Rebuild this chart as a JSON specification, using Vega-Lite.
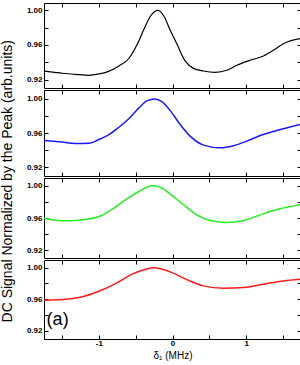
{
  "$schema": "https://vega.github.io/schema/vega-lite/v6.json",
  "padding": {"left": 0, "top": 2, "right": 1, "bottom": 0},
  "spacing": 0,
  "title": {"text": "DC Signal Normalized by the Peak (arb.units)", "orient": "left", "anchor": "middle", "fontSize": 14, "font": "Liberation Sans", "fontWeight": "normal", "color": "black", "offset": 11},
  "config": {
    "view": {"stroke": "black", "strokeWidth": 1},
    "axis": {"grid": false, "domain": false, "tickColor": "black", "tickSize": -4, "labelFont": "Liberation Sans Narrow, Liberation Sans, sans-serif", "labelFontWeight": "bold", "labelFontSize": 8, "labelColor": "black", "labelPadding": 6}
  },
  "datasets": {
    "curves": [
      {"s": "k", "x": -1.745, "v": 0.930}, {"s": "k", "x": -1.6, "v": 0.9285}, {"s": "k", "x": -1.5, "v": 0.9274}, {"s": "k", "x": -1.32, "v": 0.9262}, {"s": "k", "x": -1.13, "v": 0.925}, {"s": "k", "x": -1.0, "v": 0.9266}, {"s": "k", "x": -0.886, "v": 0.929}, {"s": "k", "x": -0.727, "v": 0.9358}, {"s": "k", "x": -0.59, "v": 0.9447}, {"s": "k", "x": -0.479, "v": 0.9608}, {"s": "k", "x": -0.388, "v": 0.978}, {"s": "k", "x": -0.298, "v": 0.9934}, {"s": "k", "x": -0.198, "v": 1.0}, {"s": "k", "x": -0.117, "v": 0.9934}, {"s": "k", "x": -0.031, "v": 0.977}, {"s": "k", "x": 0.06, "v": 0.961}, {"s": "k", "x": 0.172, "v": 0.9416}, {"s": "k", "x": 0.285, "v": 0.933}, {"s": "k", "x": 0.42, "v": 0.930}, {"s": "k", "x": 0.58, "v": 0.9285}, {"s": "k", "x": 0.738, "v": 0.9308}, {"s": "k", "x": 0.874, "v": 0.9366}, {"s": "k", "x": 1.054, "v": 0.9424}, {"s": "k", "x": 1.235, "v": 0.9473}, {"s": "k", "x": 1.37, "v": 0.9539}, {"s": "k", "x": 1.506, "v": 0.9615}, {"s": "k", "x": 1.733, "v": 0.9673},
      {"s": "b", "x": -1.745, "v": 0.9512}, {"s": "b", "x": -1.5, "v": 0.9493}, {"s": "b", "x": -1.32, "v": 0.9477}, {"s": "b", "x": -1.13, "v": 0.948}, {"s": "b", "x": -1.0, "v": 0.9523}, {"s": "b", "x": -0.863, "v": 0.958}, {"s": "b", "x": -0.727, "v": 0.9668}, {"s": "b", "x": -0.59, "v": 0.977}, {"s": "b", "x": -0.456, "v": 0.9895}, {"s": "b", "x": -0.343, "v": 0.998}, {"s": "b", "x": -0.239, "v": 1.0}, {"s": "b", "x": -0.14, "v": 0.9965}, {"s": "b", "x": -0.031, "v": 0.9863}, {"s": "b", "x": 0.104, "v": 0.970}, {"s": "b", "x": 0.24, "v": 0.9563}, {"s": "b", "x": 0.42, "v": 0.9458}, {"s": "b", "x": 0.647, "v": 0.9426}, {"s": "b", "x": 0.828, "v": 0.945}, {"s": "b", "x": 1.01, "v": 0.9505}, {"s": "b", "x": 1.19, "v": 0.957}, {"s": "b", "x": 1.417, "v": 0.9629}, {"s": "b", "x": 1.733, "v": 0.970},
      {"s": "g", "x": -1.745, "v": 0.9598}, {"s": "g", "x": -1.47, "v": 0.9565}, {"s": "g", "x": -1.27, "v": 0.9573}, {"s": "g", "x": -1.0, "v": 0.9618}, {"s": "g", "x": -0.818, "v": 0.971}, {"s": "g", "x": -0.638, "v": 0.9826}, {"s": "g", "x": -0.456, "v": 0.9929}, {"s": "g", "x": -0.275, "v": 1.0}, {"s": "g", "x": -0.14, "v": 0.9971}, {"s": "g", "x": -0.031, "v": 0.9897}, {"s": "g", "x": 0.149, "v": 0.9764}, {"s": "g", "x": 0.33, "v": 0.9639}, {"s": "g", "x": 0.512, "v": 0.9568}, {"s": "g", "x": 0.738, "v": 0.9543}, {"s": "g", "x": 0.963, "v": 0.9568}, {"s": "g", "x": 1.19, "v": 0.9639}, {"s": "g", "x": 1.46, "v": 0.9714}, {"s": "g", "x": 1.733, "v": 0.9764},
      {"s": "r", "x": -1.745, "v": 0.9588}, {"s": "r", "x": -1.5, "v": 0.9596}, {"s": "r", "x": -1.27, "v": 0.962}, {"s": "r", "x": -1.0, "v": 0.970}, {"s": "r", "x": -0.773, "v": 0.9798}, {"s": "r", "x": -0.547, "v": 0.9917}, {"s": "r", "x": -0.366, "v": 0.998}, {"s": "r", "x": -0.253, "v": 1.0}, {"s": "r", "x": -0.14, "v": 0.998}, {"s": "r", "x": -0.031, "v": 0.9946}, {"s": "r", "x": 0.195, "v": 0.9848}, {"s": "r", "x": 0.42, "v": 0.9769}, {"s": "r", "x": 0.692, "v": 0.974}, {"s": "r", "x": 0.963, "v": 0.9747}, {"s": "r", "x": 1.235, "v": 0.979}, {"s": "r", "x": 1.506, "v": 0.9832}, {"s": "r", "x": 1.733, "v": 0.9853}
    ]
  },
  "vconcat": [
    {
      "width": 257, "height": 85,
      "data": {"name": "curves"},
      "transform": [{"filter": "datum.s == 'k'"}],
      "layer": [
        {"mark": {"type": "line", "color": "black", "strokeWidth": 1.2, "interpolate": "monotone"},
         "encoding": {
           "x": {"field": "x", "type": "quantitative", "scale": {"domain": [-1.745, 1.745], "nice": false, "zero": false}, "axis": {"orient": "bottom", "values": [-1.5, -1, -0.5, 0, 0.5, 1, 1.5], "labels": false, "title": null}},
           "y": {"field": "v", "type": "quantitative", "scale": {"domain": [0.9104, 1.0084], "nice": false, "zero": false}, "axis": {"orient": "left", "values": [0.92, 0.94, 0.96, 0.98, 1.0], "labelExpr": "indexof([0.92, 0.96, 1], datum.value) >= 0 ? format(datum.value, '.2f') : ''", "title": null}}
         }},
        {"mark": {"type": "line", "opacity": 0},
         "encoding": {
           "x": {"field": "x", "type": "quantitative", "axis": {"orient": "top", "values": [-1.5, -1, -0.5, 0, 0.5, 1, 1.5], "labels": false, "title": null}},
           "y": {"field": "v", "type": "quantitative", "axis": {"orient": "right", "values": [0.92, 0.94, 0.96, 0.98, 1.0], "labels": false, "title": null}}
         }}
      ],
      "resolve": {"axis": {"x": "independent", "y": "independent"}}
    },
    {
      "width": 257, "height": 86,
      "data": {"name": "curves"},
      "transform": [{"filter": "datum.s == 'b'"}],
      "layer": [
        {"mark": {"type": "line", "color": "#1a1aff", "strokeWidth": 1.5, "interpolate": "monotone"},
         "encoding": {
           "x": {"field": "x", "type": "quantitative", "scale": {"domain": [-1.745, 1.745], "nice": false, "zero": false}, "axis": {"orient": "bottom", "values": [-1.5, -1, -0.5, 0, 0.5, 1, 1.5], "labels": false, "title": null}},
           "y": {"field": "v", "type": "quantitative", "scale": {"domain": [0.9095, 1.0105], "nice": false, "zero": false}, "axis": {"orient": "left", "values": [0.92, 0.94, 0.96, 0.98, 1.0], "labelExpr": "indexof([0.92, 0.96, 1], datum.value) >= 0 ? format(datum.value, '.2f') : ''", "title": null}}
         }},
        {"mark": {"type": "line", "opacity": 0},
         "encoding": {
           "x": {"field": "x", "type": "quantitative", "axis": {"orient": "top", "values": [-1.5, -1, -0.5, 0, 0.5, 1, 1.5], "labels": false, "title": null}},
           "y": {"field": "v", "type": "quantitative", "axis": {"orient": "right", "values": [0.92, 0.94, 0.96, 0.98, 1.0], "labels": false, "title": null}}
         }}
      ],
      "resolve": {"axis": {"x": "independent", "y": "independent"}}
    },
    {
      "width": 257, "height": 80,
      "data": {"name": "curves"},
      "transform": [{"filter": "datum.s == 'g'"}],
      "layer": [
        {"mark": {"type": "line", "color": "#22ee22", "strokeWidth": 1.5, "interpolate": "monotone"},
         "encoding": {
           "x": {"field": "x", "type": "quantitative", "scale": {"domain": [-1.745, 1.745], "nice": false, "zero": false}, "axis": {"orient": "bottom", "values": [-1.5, -1, -0.5, 0, 0.5, 1, 1.5], "labels": false, "title": null}},
           "y": {"field": "v", "type": "quantitative", "scale": {"domain": [0.9104, 1.0096], "nice": false, "zero": false}, "axis": {"orient": "left", "values": [0.92, 0.94, 0.96, 0.98, 1.0], "labelExpr": "indexof([0.92, 0.96, 1], datum.value) >= 0 ? format(datum.value, '.2f') : ''", "title": null}}
         }},
        {"mark": {"type": "line", "opacity": 0},
         "encoding": {
           "x": {"field": "x", "type": "quantitative", "axis": {"orient": "top", "values": [-1.5, -1, -0.5, 0, 0.5, 1, 1.5], "labels": false, "title": null}},
           "y": {"field": "v", "type": "quantitative", "axis": {"orient": "right", "values": [0.92, 0.94, 0.96, 0.98, 1.0], "labels": false, "title": null}}
         }}
      ],
      "resolve": {"axis": {"x": "independent", "y": "independent"}}
    },
    {
      "width": 257, "height": 79,
      "layer": [
        {"data": {"name": "curves"},
         "transform": [{"filter": "datum.s == 'r'"}],
         "mark": {"type": "line", "color": "#ff1a1a", "strokeWidth": 1.5, "interpolate": "monotone"},
         "encoding": {
           "x": {"field": "x", "type": "quantitative", "scale": {"domain": [-1.745, 1.745], "nice": false, "zero": false}, "axis": {"orient": "bottom", "values": [-1.5, -1, -0.5, 0, 0.5, 1, 1.5], "labelExpr": "datum.value == round(datum.value) ? '' + datum.value : ''", "labelPadding": 4, "title": "δ₁ (MHz)", "titleFont": "Liberation Sans", "titleFontWeight": "normal", "titleFontSize": 10, "titleColor": "black", "titlePadding": 3}},
           "y": {"field": "v", "type": "quantitative", "scale": {"domain": [0.9095, 1.0097], "nice": false, "zero": false}, "axis": {"orient": "left", "values": [0.92, 0.94, 0.96, 0.98, 1.0], "labelExpr": "indexof([0.92, 0.96, 1], datum.value) >= 0 ? format(datum.value, '.2f') : ''", "title": null}}
         }},
        {"data": {"name": "curves"},
         "transform": [{"filter": "datum.s == 'r'"}],
         "mark": {"type": "line", "opacity": 0},
         "encoding": {
           "x": {"field": "x", "type": "quantitative", "axis": {"orient": "top", "values": [-1.5, -1, -0.5, 0, 0.5, 1, 1.5], "labels": false, "title": null}},
           "y": {"field": "v", "type": "quantitative", "axis": {"orient": "right", "values": [0.92, 0.94, 0.96, 0.98, 1.0], "labels": false, "title": null}}
         }},
        {"data": {"values": [{"x": -1.56, "v": 0.933, "t": "(a)"}]},
         "mark": {"type": "text", "font": "Liberation Sans Narrow, Liberation Sans, sans-serif", "fontSize": 18, "color": "black", "baseline": "middle", "align": "center"},
         "encoding": {
           "x": {"field": "x", "type": "quantitative", "axis": null},
           "y": {"field": "v", "type": "quantitative", "axis": null},
           "text": {"field": "t"}
         }}
      ],
      "resolve": {"axis": {"x": "independent", "y": "independent"}}
    }
  ]
}
